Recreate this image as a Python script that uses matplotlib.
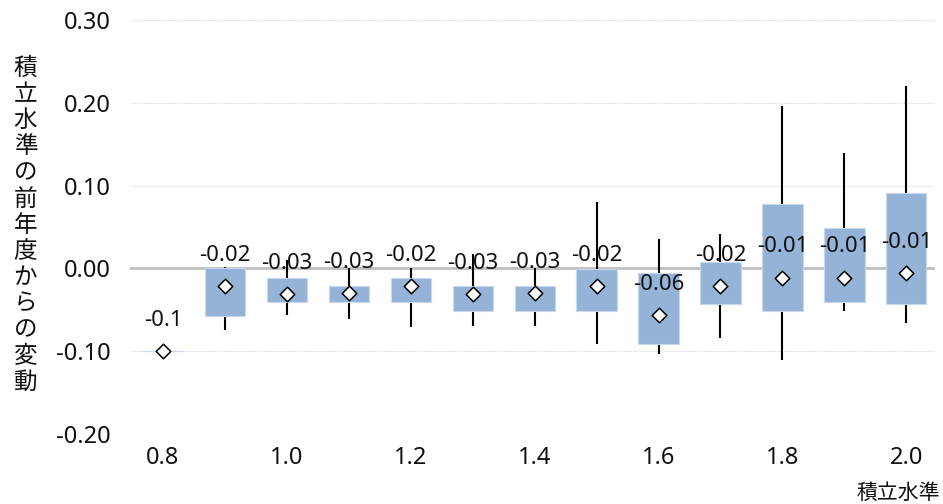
import matplotlib.pyplot as plt
import numpy as np

plt.rcParams['font.family'] = ['Noto Sans', 'Noto Sans CJK JP']

# 積立水準ごとの前年度からの変動
levels = [0.8, 0.9, 1.0, 1.1, 1.2, 1.3, 1.4, 1.5, 1.6, 1.7, 1.8, 1.9, 2.0]
q1 = [-0.100, -0.058, -0.041, -0.041, -0.041, -0.051, -0.051, -0.051, -0.091, -0.043, -0.051, -0.041, -0.043]
q3 = [-0.100, 0.000, -0.011, -0.021, -0.011, -0.021, -0.021, -0.001, -0.006, 0.008, 0.078, 0.049, 0.091]
lo = [-0.100, -0.074, -0.056, -0.061, -0.071, -0.070, -0.070, -0.091, -0.104, -0.084, -0.111, -0.051, -0.066]
hi = [-0.100, 0.002, 0.010, 0.000, 0.000, 0.018, 0.000, 0.080, 0.035, 0.042, 0.196, 0.139, 0.221]
means = [-0.100, -0.021, -0.031, -0.030, -0.021, -0.031, -0.030, -0.021, -0.056, -0.021, -0.011, -0.011, -0.006]

ylabel = "積立水準の前年度からの変動"
xlabel = "積立水準"

x = np.array(levels)
q1 = np.array(q1)
q3 = np.array(q3)

fig = plt.figure(figsize=(9.43, 5.04), dpi=100)
ax = fig.add_axes([0.138, 0.139, 0.854, 0.821])

ax.set_ylim(-0.2, 0.3)
ax.set_xlim(0.747, 2.047)
ax.set_yticks([-0.2, -0.1, 0.0, 0.1, 0.2, 0.3])
ax.set_yticklabels(["%.2f" % v for v in [-0.2, -0.1, 0.0, 0.1, 0.2, 0.3]])
ax.set_xticks([0.8, 1.0, 1.2, 1.4, 1.6, 1.8, 2.0])
ax.set_xticklabels(["%.1f" % v for v in [0.8, 1.0, 1.2, 1.4, 1.6, 1.8, 2.0]])
ax.tick_params(length=0, labelsize=17, colors='#111111')
ax.tick_params(axis='y', pad=14)
ax.tick_params(axis='x', pad=9)

for s in ax.spines.values():
    s.set_visible(False)
ax.yaxis.grid(True, color='#d9d9d9', linestyle=(0, (1, 1)), linewidth=0.8)
ax.set_axisbelow(True)
ax.axhline(0, color='#bfbfbf', linewidth=2, zorder=1)

ax.vlines(x, lo, hi, color='black', linewidth=1.5, zorder=2)
ax.bar(x, q3 - q1, width=0.065, bottom=q1, color='#95b3d7',
       edgecolor='#c9d8ec', linewidth=0.8, zorder=3)
ax.scatter(x, means, marker='D', s=55, facecolor='white', edgecolor='black',
           linewidth=1.1, zorder=4)

for xi, m in zip(x, means):
    ax.annotate(f"{round(m, 2):g}", (xi, m), xytext=(0, 22), textcoords='offset points',
                ha='center', va='center', fontsize=16, color='#111111', zorder=5)

fig.text(0.027, 0.552, "\n".join(ylabel), ha='center', va='center',
         fontsize=17, linespacing=1.12, color='#111111')
fig.text(0.997, 0.022, xlabel, ha='right', va='center', fontsize=15, color='#111111')

fig.savefig('out.png', dpi=100)
